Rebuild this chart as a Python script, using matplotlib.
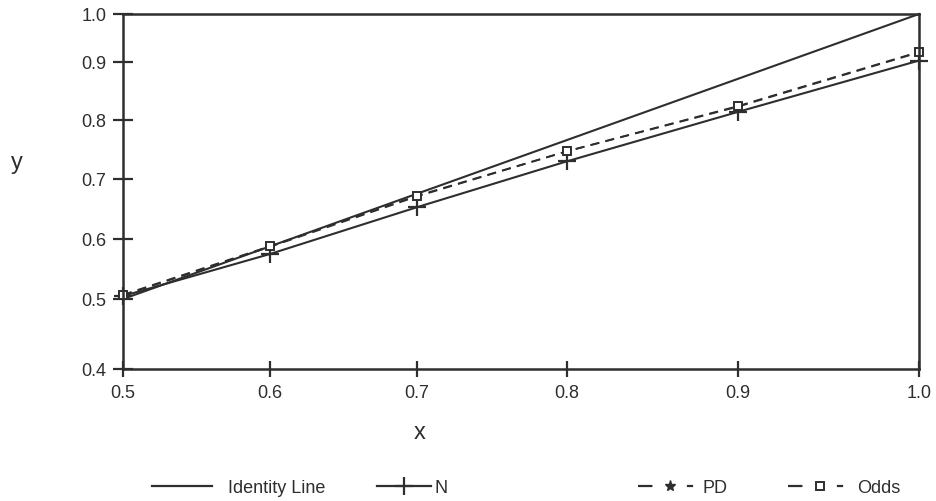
import numpy as np
import matplotlib
matplotlib.use("Agg")
import matplotlib.pyplot as plt
from matplotlib.lines import Line2D

# ---- data ----
x_vals = [0.5, 0.6, 0.7, 0.8, 0.9, 1.0]
identity_x = [0.5, 1.0]
identity_y = [0.5, 1.0]
n_vals = [0.505, 0.575, 0.653, 0.730, 0.814, 0.903]
pd_vals = [0.506, 0.587, 0.671, 0.747, 0.823, 0.920]
odds_vals = [0.507, 0.588, 0.672, 0.747, 0.824, 0.921]
x_ticks = [0.5, 0.6, 0.7, 0.8, 0.9, 1.0]
y_ticks = [0.4, 0.5, 0.6, 0.7, 0.8, 0.9, 1.0]
x_ticklabels = ["0.5", "0.6", "0.7", "0.8", "0.9", "1.0"]
y_ticklabels = ["0.4", "0.5", "0.6", "0.7", "0.8", "0.9", "1.0"]

# uneven tick spacing of the original axes (piecewise-linear scale)
x_knots = np.array([0.5, 0.6, 0.7, 0.8, 0.9, 1.0])
x_pos = np.array([0, 147, 294, 444, 615, 796], float)
y_knots = np.array([0.4, 0.5, 0.6, 0.7, 0.8, 0.9, 1.0])
y_pos = np.array([0, 70, 130, 190, 249, 307, 355], float)


def make_pw(k, p):
    s0 = (p[1] - p[0]) / (k[1] - k[0])
    s1 = (p[-1] - p[-2]) / (k[-1] - k[-2])

    def fwd(v):
        v = np.asarray(v, float)
        out = np.interp(v, k, p)
        out = np.where(v < k[0], p[0] + (v - k[0]) * s0, out)
        out = np.where(v > k[-1], p[-1] + (v - k[-1]) * s1, out)
        return out

    def inv(u):
        u = np.asarray(u, float)
        out = np.interp(u, p, k)
        out = np.where(u < p[0], k[0] + (u - p[0]) / s0, out)
        out = np.where(u > p[-1], k[-1] + (u - p[-1]) / s1, out)
        return out

    return fwd, inv


plt.rcParams['font.family'] = ['Liberation Sans', 'DejaVu Sans']
C = '#2e2e2e'

fig = plt.figure(figsize=(9.37, 5.02), dpi=100)
ax = fig.add_axes([123 / 937, 132 / 502, 796 / 937, 355 / 502])
ax.set_xscale('function', functions=make_pw(x_knots, x_pos))
ax.set_yscale('function', functions=make_pw(y_knots, y_pos))
ax.set_xlim(0.5, 1.0)
ax.set_ylim(0.4, 1.0)

lw = 1.5
ax.plot(identity_x, identity_y, color=C, lw=lw, clip_on=False)
ax.plot(x_vals, n_vals, color=C, lw=lw, marker='+', ms=13, mew=1.6, clip_on=False)
ax.plot(x_vals, pd_vals, color=C, lw=1.3, ls=(0, (5, 3.5)), marker='*', ms=6, clip_on=False)
ax.plot(x_vals, odds_vals, color=C, lw=1.3, ls=(0, (5, 3.5)), marker='s', ms=6,
        mfc='white', mec=C, mew=1.4, clip_on=False)

for sp in ax.spines.values():
    sp.set_color(C)
    sp.set_linewidth(1.8)

ax.set_xticks(x_ticks)
ax.set_xticklabels(x_ticklabels)
ax.set_yticks(y_ticks)
ax.set_yticklabels(y_ticklabels)
ax.minorticks_off()
ax.tick_params(axis='x', direction='inout', length=12, width=1.6, color=C,
               labelsize=13, labelcolor=C, pad=5)
ax.tick_params(axis='y', direction='inout', length=14, width=1.6, color=C,
               labelsize=13, labelcolor=C, pad=5)

fig.text(420 / 937, 1 - 433 / 502, 'x', fontsize=17, color=C, ha='center', va='center')
fig.text(17 / 937, 1 - 163 / 502, 'y', fontsize=17, color=C, ha='center', va='center')

# legend, four separate entries placed along the bottom
dash_leg = (0, (6.5, 15.5, 2.8, 60))
h_id = Line2D([], [], color=C, lw=1.6)
h_n = Line2D([], [], color=C, lw=1.6, marker='+', ms=13, mew=1.6)
h_pd = Line2D([], [], color=C, lw=1.6, ls=dash_leg, marker='*', ms=8)
h_od = Line2D([], [], color=C, lw=1.6, ls=dash_leg, marker='s', ms=6,
              mfc='white', mec=C, mew=1.4)
entries = [(h_id, 'Identity Line', 152, 3.3, 0.9),
           (h_n, 'N', 377, 3.0, 0.2),
           (h_pd, 'PD', 638, 3.55, 0.05),
           (h_od, 'Odds', 788, 3.55, 0.3)]
for h, lab, xp, hl, tp in entries:
    fig.legend([h], [lab], loc='center left', bbox_to_anchor=(xp / 937, 1 - 489 / 502),
               frameon=False, fontsize=13, handlelength=hl, handletextpad=tp,
               borderpad=0, borderaxespad=0, labelcolor=C)

fig.savefig('out.png', dpi=100, facecolor='white')
